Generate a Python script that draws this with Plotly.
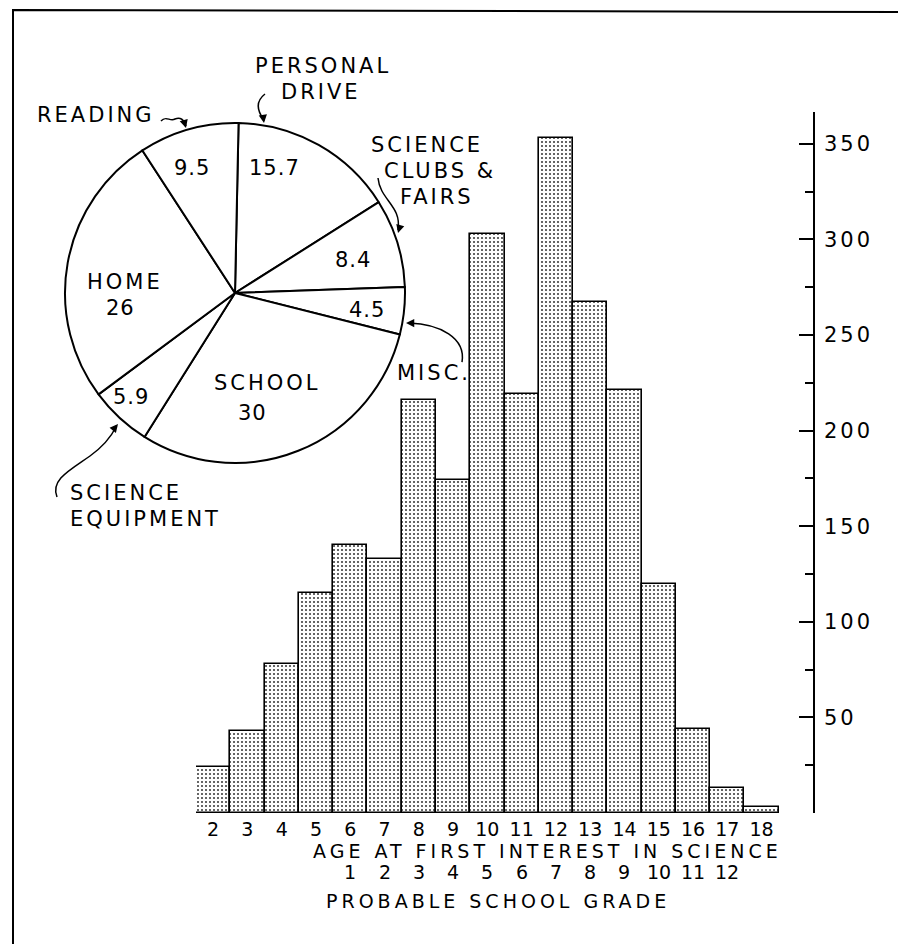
import plotly.graph_objects as go

# ---------------- data ----------------
ages = list(range(2, 19))
counts = [24, 43, 78, 115, 140, 133, 216, 174, 303, 219, 353, 267, 221, 120, 44, 13, 3]
y_tick_vals = [0, 50, 100, 150, 200, 250, 300, 350]
y_minor_vals = [25, 75, 125, 175, 225, 275, 325]
grades = list(range(1, 13))
grade_age_offset = 5  # grade 1 ~ age 6

pie_labels = ["PERSONAL DRIVE", "SCIENCE CLUBS & FAIRS", "MISC.", "SCHOOL",
              "SCIENCE EQUIPMENT", "HOME", "READING"]
pie_values = [15.7, 8.4, 4.5, 30, 5.9, 26, 9.5]

OFF = 8  # page body margin
W, H = 906 - OFF, 944 - OFF
FONT = "DejaVu Sans"


def px(x):
    return (x - OFF) / W


def py(y):
    return 1 - (y - OFF) / H


def ls(s, sp=3):
    return "<br>".join(f'<span style="letter-spacing:{sp}px">{p}</span>' for p in s.split("<br>"))


fig = go.Figure()

# histogram bars
fig.add_trace(go.Bar(
    x=ages, y=counts, width=1,
    marker=dict(color="white", line=dict(color="black", width=1.6),
                pattern=dict(shape=".", fgcolor="#333", bgcolor="white", size=4, solidity=0.2)),
    hoverinfo="skip", showlegend=False, xaxis="x", yaxis="y",
))

# pie
fig.add_trace(go.Pie(
    labels=pie_labels, values=pie_values, sort=False, direction="clockwise", rotation=1.2,
    marker=dict(colors=["white"] * len(pie_values), line=dict(color="black", width=2)),
    textinfo="none", hoverinfo="skip", showlegend=False,
    domain=dict(x=[px(65), px(405)], y=[py(463), py(123)]),
))

annotations = []


def txt(x, y, s, anchor="center", size=21, sp=3):
    annotations.append(dict(x=px(x), y=py(y), xref="paper", yref="paper", text=ls(s, sp),
                            showarrow=False, xanchor=anchor, yanchor="middle",
                            font=dict(family=FONT, size=size, color="black")))


def fmt(v):
    return f"{v:g}"


# values inside pie
txt(274, 168, fmt(pie_values[0]), sp=1)
txt(353, 260, fmt(pie_values[1]), sp=1)
txt(367, 310, fmt(pie_values[2]), sp=1)
txt(267, 383, "SCHOOL")
txt(252, 413, fmt(pie_values[3]), sp=1)
txt(131, 397, fmt(pie_values[4]), sp=1)
txt(125, 282, "HOME")
txt(120, 308, fmt(pie_values[5]), sp=1)
txt(192, 168, fmt(pie_values[6]), sp=1)

# outside pie labels
txt(323, 66, "PERSONAL")
txt(321, 92, "DRIVE")
txt(35, 115, "READING", anchor="left")
txt(369, 145, "SCIENCE", anchor="left")
txt(382, 171, "CLUBS &amp;", anchor="left")
txt(398, 197, "FAIRS", anchor="left")
txt(395, 373, "MISC.", anchor="left")
txt(68, 493, "SCIENCE", anchor="left")
txt(68, 519, "EQUIPMENT", anchor="left")

# axis titles
txt(547, 851, "AGE AT FIRST INTEREST IN SCIENCE", size=19, sp=4)
txt(498, 901, "PROBABLE SCHOOL GRADE", size=19, sp=4)

# grade row, placed through the x axis scale
for g in grades:
    annotations.append(dict(x=g + grade_age_offset, y=py(872), xref="x", yref="paper",
                            text=str(g), showarrow=False, xanchor="center", yanchor="middle",
                            font=dict(family=FONT, size=19, color="black")))


# arrowheads
def head(x, y, ax, ay):
    annotations.append(dict(x=px(x), y=py(y), xref="paper", yref="paper", text="",
                            showarrow=True, ax=ax, ay=ay, arrowhead=2, arrowsize=1.1,
                            arrowwidth=1.5, arrowcolor="black"))


head(264, 123, -1, -7)
head(186, 128, -2, -7)
head(398, 233, 2, -7)
head(406, 323, 7, 0)
head(118, 424, -5, 6)


def path(cmd, width=1.5):
    return dict(type="path", xref="paper", yref="paper", path=cmd,
                line=dict(color="black", width=width))


def P(x, y):
    return f"{px(x):.5f},{py(y):.5f}"


shapes = [
    path(f"M {P(265,94)} Q {P(252,104)} {P(264,120)}"),
    path(f"M {P(161,121)} C {P(166,115)} {P(170,122)} {P(175,119)} Q {P(183,116)} {P(186,126)}"),
    path(f"M {P(378,178)} C {P(380,200)} {P(402,206)} {P(398,230)}"),
    path(f"M {P(462,362)} C {P(466,338)} {P(440,324)} {P(409,323)}"),
    path(f"M {P(57,497)} C {P(50,480)} {P(70,470)} {P(90,456)} Q {P(108,443)} {P(116,427)}"),
    # frame
    path(f"M {P(13,960)} L {P(13,10)} L {P(901,12)} L {P(901,960)}", width=2),
]

fig.update_layout(
    width=W, height=H, margin=dict(l=0, r=0, t=0, b=0),
    paper_bgcolor="white", plot_bgcolor="rgba(0,0,0,0)",
    template="none", showlegend=False, bargap=0,
    font=dict(family=FONT, size=21, color="black"),
    xaxis=dict(domain=[px(196), px(813)], range=[1.5, 19.5], tickvals=ages,
               ticks="", showline=False, ticklabelstandoff=3,
               showgrid=False, zeroline=False, automargin=False,
               tickfont=dict(family=FONT, size=19, color="black")),
    yaxis=dict(domain=[py(813), py(112)], range=[0, 366.6], side="right",
               tickvals=y_tick_vals,
               ticktext=[""] + [ls(str(v), 3) for v in y_tick_vals[1:]],
               ticks="inside", ticklen=14, tickwidth=1.5, tickcolor="black",
               ticklabelstandoff=5,
               minor=dict(tickvals=y_minor_vals, ticks="inside", ticklen=8, tickwidth=1.5,
                          tickcolor="black", showgrid=False),
               showline=True, linewidth=1.5, linecolor="black", showgrid=False,
               zeroline=False, automargin=False,
               tickfont=dict(family=FONT, size=21, color="black")),
    annotations=annotations, shapes=shapes,
)

fig.write_html("out.html")
